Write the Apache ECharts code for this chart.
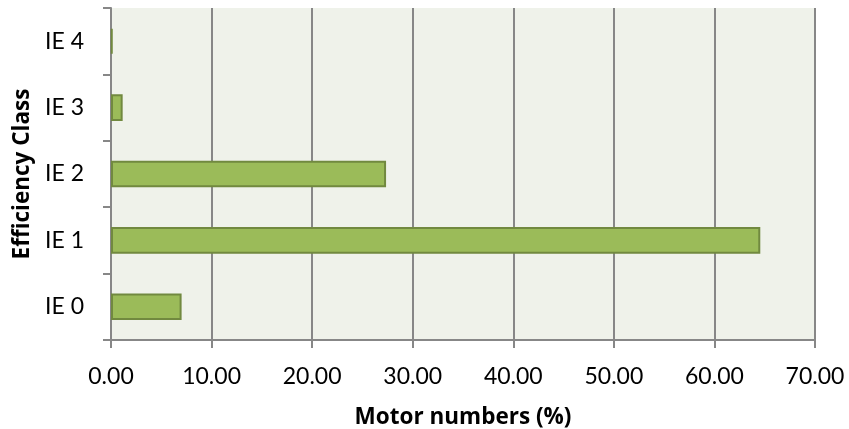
<!DOCTYPE html>
<html>
<head>
<meta charset="utf-8">
<script src="https://cdn.jsdelivr.net/npm/echarts@6/dist/echarts.min.js"></script>
<style>
  html, body { margin: 0; padding: 0; background: #ffffff; }
  #chart { width: 849px; height: 429px; }
</style>
</head>
<body>
<div id="chart"></div>
<script>
// Share of motors by efficiency class
const classes = ['IE 0', 'IE 1', 'IE 2', 'IE 3', 'IE 4'];
const motorShare = [7.02, 64.56, 27.35, 1.16, 0.15];
const axisMin = 0;
const axisMax = 70;
const axisStep = 10;

const FONT = 'Lato';
const TITLE_FONT = 'Open Sans';
const chart = echarts.init(document.getElementById('chart'), null, { renderer: 'canvas' });

chart.setOption({
  animation: false,
  backgroundColor: '#ffffff',
  textStyle: { fontFamily: FONT },
  grid: {
    left: 111, right: 34, top: 8, bottom: 89,
    outerBoundsMode: 'none',
    containLabel: false,
    show: true,
    backgroundColor: '#eff2ea',
    borderWidth: 0
  },
  xAxis: {
    type: 'value',
    min: axisMin,
    max: axisMax,
    interval: axisStep,
    name: 'Motor numbers (%)',
    nameLocation: 'middle',
    nameGap: 66,
    nameTextStyle: { fontFamily: TITLE_FONT, fontWeight: 'bold', fontSize: 22.5, color: '#000000' },
    axisLine: { show: true, lineStyle: { color: '#878787', width: 2 } },
    axisTick: { show: true, length: 8, lineStyle: { color: '#878787', width: 2 } },
    axisLabel: {
      fontFamily: FONT, fontSize: 23, color: '#000000', margin: 25,
      formatter: v => v.toFixed(2)
    },
    splitLine: { show: true, lineStyle: { color: '#878787', width: 2 } }
  },
  yAxis: {
    type: 'category',
    data: classes,
    name: 'Efficiency Class',
    nameLocation: 'middle',
    nameGap: 75,
    nameTextStyle: { fontFamily: TITLE_FONT, fontWeight: 'bold', fontSize: 22.5, color: '#000000' },
    axisLine: { show: true, lineStyle: { color: '#878787', width: 2 } },
    axisTick: { show: true, length: 8, lineStyle: { color: '#878787', width: 2 } },
    axisLabel: { fontFamily: FONT, fontSize: 23, color: '#000000', margin: 27 },
    splitLine: { show: false }
  },
  series: [{
    type: 'bar',
    data: motorShare,
    barWidth: '40%',
    itemStyle: { color: '#9bbb59', borderColor: '#71893f', borderWidth: 2 }
  }]
});
</script>
</body>
</html>
